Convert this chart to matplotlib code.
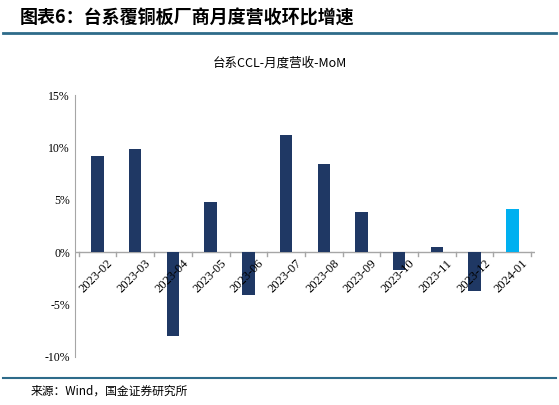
import matplotlib
matplotlib.use("Agg")
import matplotlib.pyplot as plt
from matplotlib.lines import Line2D
from matplotlib.ticker import FuncFormatter

categories = ["2023-02","2023-03","2023-04","2023-05","2023-06","2023-07","2023-08",
              "2023-09","2023-10","2023-11","2023-12","2024-01"]
values = [9.2, 9.9, -8.0, 4.8, -4.1, 11.2, 8.4, 3.8, -1.7, 0.5, -3.7, 4.1]
colors = ["#1F3864"]*11 + ["#00B0F0"]

plt.rcParams['font.family'] = ['Liberation Serif', 'Noto Sans CJK SC']
fig = plt.figure(figsize=(5.59, 4.05), dpi=100)
ax = fig.add_axes([0.134, 0.119, 0.823, 0.646])
x = list(range(len(categories)))
ax.bar(x, values, width=0.33, color=colors, zorder=2)
ax.set_ylim(-10, 15)
ax.set_xlim(-0.6, len(categories) - 0.4)
ax.set_yticks([-10, -5, 0, 5, 10, 15])
ax.yaxis.set_major_formatter(FuncFormatter(lambda v, p: f"{v:.0f}%"))
ax.tick_params(axis='y', labelsize=8.5, length=0)
ax.set_xticks([])
for s in ["top", "right", "bottom"]:
    ax.spines[s].set_visible(False)
ax.spines["left"].set_color("#A6A6A6")
ax.axhline(0, color="#A6A6A6", lw=1, zorder=1)
for i in range(len(categories) + 1):
    ax.plot([i - 0.5, i - 0.5], [0, -0.35], color="#A6A6A6", lw=1, clip_on=False)
for i, c in enumerate(categories):
    ax.text(i + 0.25, -0.5, c, rotation=45, ha="right", va="top",
            rotation_mode="anchor", fontsize=9)

fig.text(0.5, 0.845, "台系CCL-月度营收-MoM", ha="center", va="center", fontsize=9,
         family=['Noto Sans CJK SC'])
fig.text(0.035, 0.955, "图表6：台系覆铜板厂商月度营收环比增速", ha="left", va="center",
         fontsize=13, fontweight="bold", fontstyle="italic", family=['Noto Sans CJK SC'])
fig.add_artist(Line2D([0.005, 0.995], [0.918, 0.918], color="#2E6B8A", lw=2))
fig.add_artist(Line2D([0.005, 0.995], [0.067, 0.067], color="#2E6B8A", lw=1.5))
fig.text(0.055, 0.035, "来源：Wind，国金证券研究所", ha="left", va="center", fontsize=8.5,
         family=['Noto Sans CJK SC'])
fig.savefig("out.png", dpi=100)
